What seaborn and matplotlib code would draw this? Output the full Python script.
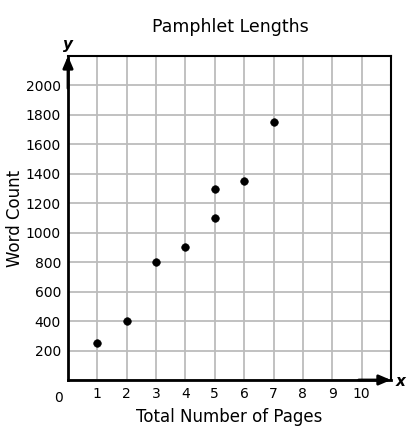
import matplotlib
matplotlib.use("Agg")
import matplotlib.pyplot as plt
import seaborn as sns
import pandas as pd

pages = [1, 2, 3, 4, 5, 5, 6, 7]
words = [250, 400, 800, 900, 1100, 1300, 1350, 1750]
x_ticks = list(range(1, 11))
y_ticks = list(range(200, 2001, 200))

df = pd.DataFrame({"pages": pages, "words": words})

sns.set_style("white")
plt.rcParams["font.family"] = ["DejaVu Sans"]
plt.rcParams["text.color"] = "black"
plt.rcParams["axes.labelcolor"] = "black"
plt.rcParams["xtick.color"] = "black"
plt.rcParams["ytick.color"] = "black"

fig = plt.figure(figsize=(4.13, 4.32), dpi=100)
ax = fig.add_axes([0.1646, 0.1204, 0.782, 0.75])

sns.scatterplot(data=df, x="pages", y="words", ax=ax, color="black",
                s=30, edgecolor="black", zorder=5, clip_on=False)

ax.set_xlim(0, 11)
ax.set_ylim(0, 2200)
ax.set_xticks(range(0, 12))
ax.set_xticklabels([""] + [str(t) for t in x_ticks] + [""])
ax.set_yticks(range(0, 2201, 200))
ax.set_yticklabels([""] + [str(t) for t in y_ticks] + [""])
ax.tick_params(length=0, labelsize=10, pad=5)
ax.grid(True, color="#bcbcbc", linewidth=1.3)
ax.set_axisbelow(True)

for s in ["top", "right"]:
    ax.spines[s].set_visible(True)
    ax.spines[s].set_color("black")
    ax.spines[s].set_linewidth(1.5)
for s in ["left", "bottom"]:
    ax.spines[s].set_color("black")
    ax.spines[s].set_linewidth(2)

# axis arrows
ax.annotate("", xy=(0, 1.0), xytext=(0, 0.9), xycoords="axes fraction",
            arrowprops=dict(arrowstyle="-|>,head_length=0.7,head_width=0.3",
                            color="black", lw=2, shrinkA=0, shrinkB=0),
            annotation_clip=False)
ax.annotate("", xy=(1.0, 0), xytext=(0.9, 0), xycoords="axes fraction",
            arrowprops=dict(arrowstyle="-|>,head_length=0.7,head_width=0.3",
                            color="black", lw=2, shrinkA=0, shrinkB=0),
            annotation_clip=False)
ax.text(0, 1.012, "y", transform=ax.transAxes, ha="center", va="bottom",
        fontsize=11, fontweight="bold", fontstyle="italic")
ax.text(1.015, -0.005, "x", transform=ax.transAxes, ha="left", va="center",
        fontsize=11, fontweight="bold", fontstyle="italic")
ax.text(-0.03, -0.035, "0", transform=ax.transAxes, ha="center", va="top",
        fontsize=10)

ax.set_xlabel("Total Number of Pages", fontsize=12, labelpad=5)
ax.set_ylabel("Word Count", fontsize=12, labelpad=1)
fig.text(0.557, 0.937, "Pamphlet Lengths", ha="center", va="center", fontsize=12.5)

fig.savefig("out.png", dpi=100)
